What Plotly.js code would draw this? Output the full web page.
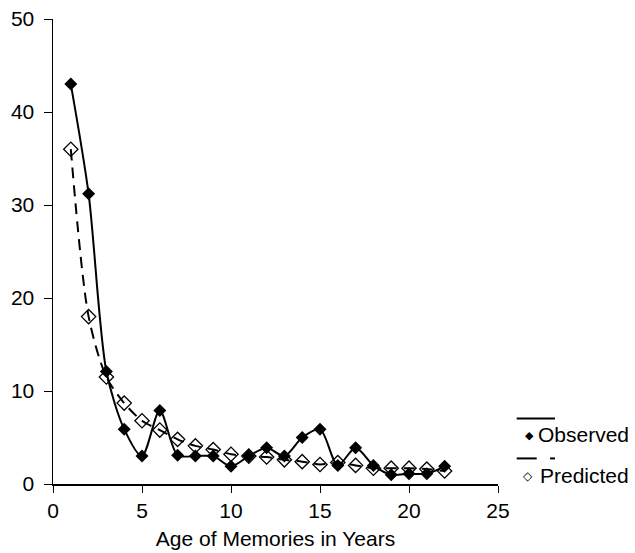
<!DOCTYPE html>
<html>
<head>
<meta charset="utf-8">
<script src="https://cdn.plot.ly/plotly-3.0.1.min.js"></script>
<style>html,body{margin:0;padding:0;background:#fff;}#chart{width:635px;height:553px;}</style>
</head>
<body>
<div id="chart"></div>
<script>
const ages = [1,2,3,4,5,6,7,8,9,10,11,12,13,14,15,16,17,18,19,20,21,22];
const observed = [43,31.2,12.1,5.9,3.0,7.9,3.1,3.0,3.0,1.9,3.0,3.9,3.0,5.0,5.9,2.0,3.9,2.0,1.0,1.1,1.1,1.9];
const predicted = [36,18,11.5,8.7,6.8,5.8,4.8,4.1,3.7,3.2,3.0,2.9,2.6,2.4,2.1,2.3,2.0,1.7,1.7,1.7,1.6,1.4];
const seriesNames = ["Observed","Predicted"];
const xTicks = [0,5,10,15,20,25];
const yTicks = [0,10,20,30,40,50];

const font = {family: "Arial, 'Liberation Sans', Helvetica, sans-serif", size: 21, color: "#000"};

const traces = [
  {x: ages, y: observed, name: seriesNames[0], type: "scatter", mode: "lines+markers",
   line: {color: "#000", width: 2, shape: "spline", smoothing: 0.8},
   marker: {symbol: "diamond", size: 10, color: "#000"}, showlegend: false, cliponaxis: false},
  {x: ages, y: predicted, name: seriesNames[1], type: "scatter", mode: "lines+markers",
   line: {color: "#000", width: 2, shape: "spline", smoothing: 0.8, dash: "11px,7px"},
   marker: {symbol: "diamond-open", size: 11, color: "#000", line: {width: 1.3}}, showlegend: false, cliponaxis: false}
];

const layout = {
  width: 635, height: 553,
  margin: {l: 53, r: 137, t: 19, b: 69},
  paper_bgcolor: "#fff", plot_bgcolor: "#fff",
  font: font,
  showlegend: false,
  xaxis: {range: [0, 25], tickvals: xTicks, ticktext: xTicks.map(String), showgrid: false, zeroline: false,
          showline: true, linecolor: "#000", linewidth: 1.5, ticks: "outside", ticklen: 7, tickcolor: "#000",
          tickfont: font, title: {text: "Age of Memories in Years", font: font, standoff: 10}},
  yaxis: {range: [0, 50], tickvals: yTicks, ticktext: yTicks.map(String), showgrid: false, zeroline: false,
          showline: true, linecolor: "#000", linewidth: 1.5, ticks: "outside", ticklen: 8, tickcolor: "#000",
          tickfont: font, ticklabelstandoff: 5},
  shapes: [
    {type: "line", xref: "paper", yref: "paper", x0: 1.042, x1: 1.128, y0: 0.141, y1: 0.141, line: {color: "#000", width: 2}},
    {type: "line", xref: "paper", yref: "paper", x0: 1.042, x1: 1.087, y0: 0.055, y1: 0.055, line: {color: "#000", width: 2}},
    {type: "line", xref: "paper", yref: "paper", x0: 1.117, x1: 1.128, y0: 0.055, y1: 0.055, line: {color: "#000", width: 2}}
  ],
  annotations: [
    {xref: "paper", yref: "paper", x: 1.0697, y: 0.1054, xanchor: "center", yanchor: "middle", showarrow: false,
     text: "◆", font: {family: font.family, size: 11, color: "#000"}},
    {xref: "paper", yref: "paper", x: 1.086, y: 0.1054, xanchor: "left", yanchor: "middle", showarrow: false,
     text: seriesNames[0], font: font},
    {xref: "paper", yref: "paper", x: 1.068, y: 0.0178, xanchor: "center", yanchor: "middle", showarrow: false,
     text: "◇", font: {family: font.family, size: 12, color: "#000"}},
    {xref: "paper", yref: "paper", x: 1.089, y: 0.0178, xanchor: "left", yanchor: "middle", showarrow: false,
     text: seriesNames[1], font: font}
  ]
};

Plotly.newPlot("chart", traces, layout, {displayModeBar: false, staticPlot: true});
</script>
</body>
</html>
